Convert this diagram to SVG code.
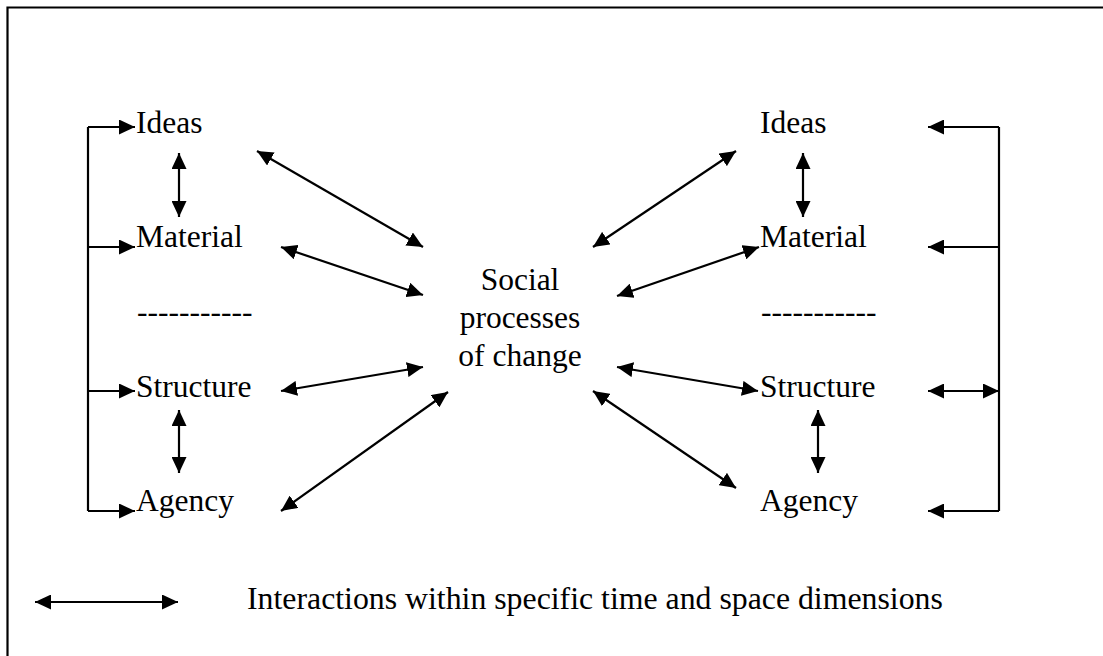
<svg xmlns="http://www.w3.org/2000/svg" width="1103" height="656" viewBox="0 0 1103 656">
<style>
text{font-family:"Liberation Serif","Times New Roman",serif;font-size:31.5px;fill:#000}
.c{text-anchor:middle}
.ln{stroke:#000;stroke-width:2.2;fill:none}
</style>
<defs>
<marker id="ah" viewBox="0 0 16 15" markerWidth="16" markerHeight="15" refX="16" refY="7.5" orient="auto-start-reverse" markerUnits="userSpaceOnUse">
<path d="M0,0 L16,7.5 L0,15 z" fill="#000"/>
</marker>
</defs>
<rect width="1103" height="656" fill="#fff"/>
<path class="ln" d="M7.5,656 V7.5 H1103"/>

<g id="left-ideas"><text x="136" y="133">Ideas</text></g>
<g id="left-material"><text x="136" y="247">Material</text></g>
<g id="left-dashes"><text x="137" y="322">-----------</text></g>
<g id="left-structure"><text x="136" y="397">Structure</text></g>
<g id="left-agency"><text x="136" y="511">Agency</text></g>

<g id="center"><text class="c" x="520" y="290">Social</text><text class="c" x="520" y="328">processes</text><text class="c" x="520" y="366">of change</text></g>

<g id="right-ideas"><text x="760" y="133">Ideas</text></g>
<g id="right-material"><text x="760" y="247">Material</text></g>
<g id="right-dashes"><text x="761" y="322">-----------</text></g>
<g id="right-structure"><text x="760" y="397">Structure</text></g>
<g id="right-agency"><text x="760" y="511">Agency</text></g>

<g id="legend"><text x="247" y="609" style="font-size:31.8px">Interactions within specific time and space dimensions</text></g>

<g id="connectors" class="ln">
<path d="M88,127 V511"/>
<line x1="88" y1="127" x2="135" y2="127" marker-end="url(#ah)"/>
<line x1="88" y1="247" x2="135" y2="247" marker-end="url(#ah)"/>
<line x1="88" y1="391" x2="135" y2="391" marker-end="url(#ah)"/>
<line x1="88" y1="511" x2="135" y2="511" marker-end="url(#ah)"/>
<line x1="179" y1="153" x2="179" y2="217" marker-start="url(#ah)" marker-end="url(#ah)"/>
<line x1="179" y1="410" x2="179" y2="473" marker-start="url(#ah)" marker-end="url(#ah)"/>
<line x1="257" y1="151" x2="423" y2="247" marker-start="url(#ah)" marker-end="url(#ah)"/>
<line x1="281" y1="247" x2="423" y2="295" marker-start="url(#ah)" marker-end="url(#ah)"/>
<line x1="281" y1="391" x2="423" y2="367" marker-start="url(#ah)" marker-end="url(#ah)"/>
<line x1="281" y1="511" x2="448" y2="392" marker-start="url(#ah)" marker-end="url(#ah)"/>
<line x1="593" y1="247" x2="736" y2="151" marker-start="url(#ah)" marker-end="url(#ah)"/>
<line x1="617" y1="296" x2="759" y2="247" marker-start="url(#ah)" marker-end="url(#ah)"/>
<line x1="617" y1="367" x2="758" y2="391" marker-start="url(#ah)" marker-end="url(#ah)"/>
<line x1="593" y1="391" x2="736" y2="488" marker-start="url(#ah)" marker-end="url(#ah)"/>
<line x1="803" y1="153" x2="803" y2="217" marker-start="url(#ah)" marker-end="url(#ah)"/>
<line x1="818" y1="410" x2="818" y2="473" marker-start="url(#ah)" marker-end="url(#ah)"/>
<path d="M999,127 V511"/>
<line x1="999" y1="127" x2="928" y2="127" marker-end="url(#ah)"/>
<line x1="999" y1="247" x2="928" y2="247" marker-end="url(#ah)"/>
<line x1="928" y1="391" x2="999" y2="391" marker-start="url(#ah)" marker-end="url(#ah)"/>
<line x1="999" y1="511" x2="928" y2="511" marker-end="url(#ah)"/>
<line x1="35" y1="602" x2="178" y2="602" marker-start="url(#ah)" marker-end="url(#ah)"/>
</g>
</svg>
